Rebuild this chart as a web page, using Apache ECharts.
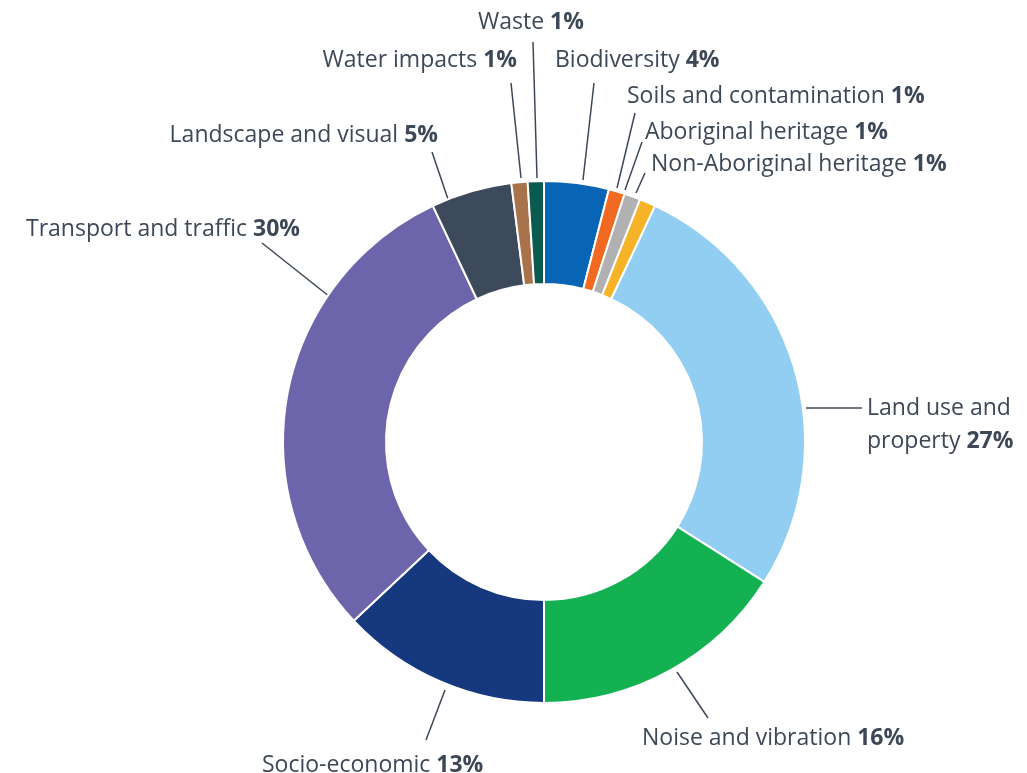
<!DOCTYPE html>
<html>
<head>
<meta charset="utf-8">
<script src="https://cdn.jsdelivr.net/npm/echarts@6/dist/echarts.min.js"></script>
<style>
  html, body { margin: 0; padding: 0; background: #fff; }
  #myChart { width: 1027px; height: 773px; }
</style>
</head>
<body>
<div id="myChart"></div>
<script>
// clockwise from 12 o'clock
const categories = [
  'Biodiversity',
  'Soils and contamination',
  'Aboriginal heritage',
  'Non-Aboriginal heritage',
  'Land use and\nproperty',
  'Noise and vibration',
  'Socio-economic',
  'Transport and traffic',
  'Landscape and visual',
  'Water impacts',
  'Waste'
];
const values = [4, 1, 1, 1, 27, 16, 13, 30, 5, 1, 1];
const colors = [
  '#0864b5', '#f26a22', '#b1b1b1', '#f6b328', '#92cef2', '#14b153',
  '#15387f', '#6d65ab', '#3c4a5b', '#a8734b', '#0b5a4f'
];

// where each label sits: [x, y, align] and its leader line [x1, y1, x2, y2]
const labelPos = [
  [555, 60, 'left'],
  [627, 96, 'left'],
  [645, 132, 'left'],
  [651, 164, 'left'],
  [867, 425, 'left'],
  [642, 738, 'left'],
  [262, 765, 'left'],
  [300, 229, 'right'],
  [438, 135, 'right'],
  [517, 60, 'right'],
  [531, 22, 'center']
];
const guides = [
  [583, 180, 594, 83],
  [617, 188, 635, 113],
  [625, 190, 642, 142],
  [636, 193, 645, 173],
  [806, 408, 862, 408],
  [677, 672, 708, 718],
  [445, 690, 426, 740],
  [330, 297, 262, 243],
  [450, 205, 432, 152],
  [521, 178, 511, 83],
  [537, 178, 533, 42]
];

const textColor = '#3d4857';
const font = 'Open Sans';
const myChart = echarts.init(document.getElementById('myChart'));

const option = {
  backgroundColor: '#fff',
  animation: false,
  series: [{
    type: 'pie',
    center: [544, 442],
    radius: [158, 261],
    startAngle: 90,
    clockwise: true,
    avoidLabelOverlap: false,
    itemStyle: { borderColor: '#fff', borderWidth: 2 },
    label: {
      show: true,
      formatter: function (p) {
        const lines = p.name.split('\n');
        return lines.map(function (l, i) {
          return i === lines.length - 1
            ? '{n|' + l + ' }{b|' + p.value + '%}'
            : '{n|' + l + '}';
        }).join('\n');
      },
      rich: {
        n: { fontFamily: font, fontSize: 23, color: textColor, lineHeight: 33 },
        b: { fontFamily: font, fontSize: 23, fontWeight: 'bold', color: textColor, lineHeight: 33 }
      }
    },
    labelLine: {
      show: true,
      lineStyle: { color: '#3d4857', width: 1.5 }
    },
    labelLayout: function (params) {
      const i = params.dataIndex;
      const pos = labelPos[i];
      const g = guides[i];
      return {
        x: pos[0],
        y: pos[1],
        align: pos[2],
        verticalAlign: 'middle',
        labelLinePoints: [[g[0], g[1]], [g[2], g[3]], [g[2], g[3]]]
      };
    },
    data: categories.map(function (name, i) {
      return { name: name, value: values[i], itemStyle: { color: colors[i] } };
    })
  }]
};

myChart.setOption(option);
</script>
</body>
</html>
